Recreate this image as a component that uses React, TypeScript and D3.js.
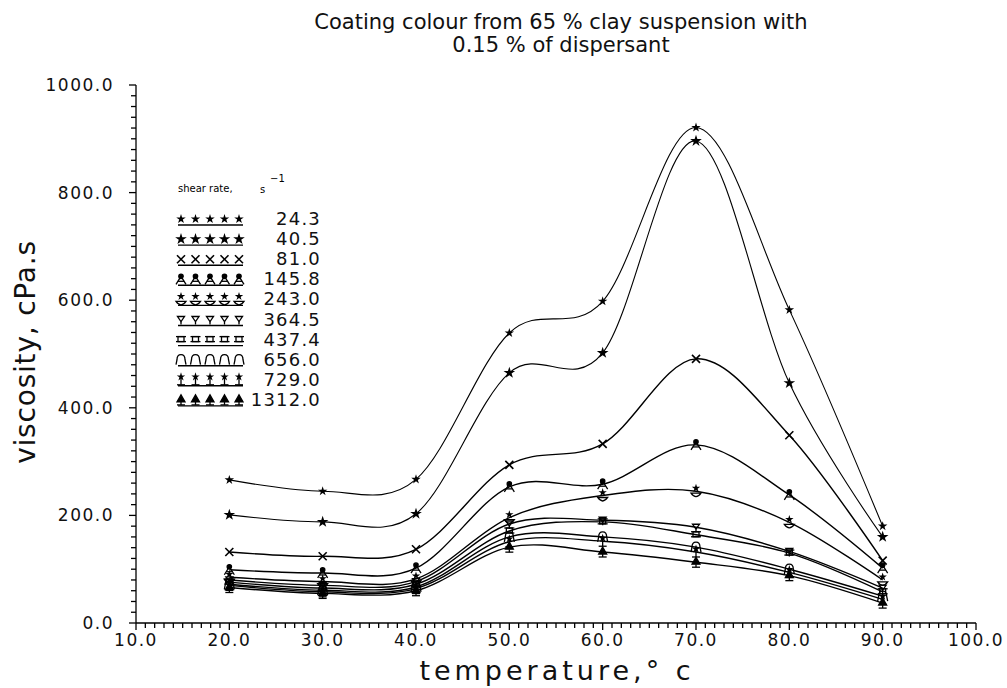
import React from "react";
import * as d3 from "d3";

const temps = [20, 30, 40, 50, 60, 70, 80, 90];
const shearRates = ["24.3", "40.5", "81.0", "145.8", "243.0", "364.5", "437.4", "656.0", "729.0", "1312.0"];
const markerKinds = ["smallStar", "star", "cross", "triA", "starBowl", "pin", "square", "arch", "stemStar", "tree"];

const s24_3 = [266, 245, 267, 539, 598, 921, 582, 180];
const s40_5 = [201, 188, 203, 465, 502, 896, 446, 160];
const s81_0 = [132, 124, 137, 294, 333, 491, 349, 116];
const s145_8 = [99, 93, 102, 253, 258, 331, 238, 102];
const s243_0 = [85, 77, 82, 196, 237, 245, 187, 80];
const s364_5 = [80, 70, 77, 184, 191, 178, 133, 65];
const s437_4 = [76, 65, 72, 171, 188, 164, 130, 58];
const s656_0 = [72, 61, 67, 160, 160, 141, 100, 50];
const s729_0 = [70, 58, 64, 151, 152, 132, 94, 44];
const s1312_0 = [66, 55, 60, 141, 132, 113, 88, 37];

const seriesValues = [s24_3, s40_5, s81_0, s145_8, s243_0, s364_5, s437_4, s656_0, s729_0, s1312_0];

const xTicks = [10, 20, 30, 40, 50, 60, 70, 80, 90, 100];
const yTicks = [0, 200, 400, 600, 800, 1000];

const W = 1007;
const H = 688;
const FONT = "'DejaVu Sans', sans-serif";

const x = d3.scaleLinear().domain([10, 100]).range([136, 976]);
const y = d3.scaleLinear().domain([0, 1000]).range([623, 85]);

const starPath = (r: number) => d3.symbol(d3.symbolStar, r)() as string;

function Marker({ kind, cx, cy }: { kind: string; cx: number; cy: number }) {
  const t = `translate(${cx},${cy})`;
  const sw = 1.3;
  switch (kind) {
    case "smallStar":
      return <path transform={t} d={starPath(28)} fill="#000" />;
    case "star":
      return <path transform={t} d={starPath(42)} fill="#000" />;
    case "cross":
      return (
        <g transform={t} stroke="#000" strokeWidth={1.6}>
          <line x1={-4} y1={-4} x2={4} y2={4} />
          <line x1={-4} y1={4} x2={4} y2={-4} />
        </g>
      );
    case "triA":
      return (
        <g transform={t} stroke="#000" strokeWidth={sw} fill="none">
          <path d="M-5,5 L0,-3 L5,5" />
          <circle cx={0} cy={-3} r={2.2} fill="#000" />
          <line x1={-3} y1={2} x2={3} y2={2} />
        </g>
      );
    case "starBowl":
      return (
        <g transform={t}>
          <path transform="translate(0,-3)" d={starPath(22)} fill="#000" />
          <path d="M-5,2 Q0,9 5,2 Z" fill="none" stroke="#000" strokeWidth={sw} />
        </g>
      );
    case "pin":
      return (
        <g transform={t} stroke="#000" strokeWidth={sw} fill="none">
          <path d="M-3.5,-3 L3.5,-3 L0,2 Z" />
          <line x1={0} y1={2} x2={0} y2={5} />
        </g>
      );
    case "square":
      return (
        <g transform={t} stroke="#000" strokeWidth={sw} fill="none">
          <rect x={-3} y={-3} width={6} height={5} />
          <line x1={-5} y1={-3} x2={5} y2={-3} />
          <line x1={-5} y1={2} x2={5} y2={2} />
        </g>
      );
    case "arch":
      return (
        <g transform={t} stroke="#000" strokeWidth={sw} fill="none">
          <path d="M-5,5 L-4,0 Q-4,-5 0,-5 Q4,-5 4,0 L5,5" />
        </g>
      );
    case "stemStar":
      return (
        <g transform={t} stroke="#000" strokeWidth={sw}>
          <path transform="translate(0,-3)" d={starPath(22)} fill="#000" stroke="none" />
          <line x1={0} y1={-2} x2={0} y2={5} />
          <line x1={-4} y1={5} x2={4} y2={5} />
        </g>
      );
    case "tree":
      return (
        <g transform={t} stroke="#000" strokeWidth={sw}>
          <path d="M0,-5 L4,2 L-4,2 Z" fill="#000" />
          <line x1={0} y1={2} x2={0} y2={5} />
          <line x1={-4} y1={5} x2={4} y2={5} />
        </g>
      );
    default:
      return null;
  }
}

export default function App() {
  const line = d3
    .line<number>()
    .x((_, i) => x(temps[i]))
    .y((d) => y(d))
    .curve(d3.curveCatmullRom.alpha(0));

  const xMinor = d3.range(10, 100.5, 1);
  const yMinor = d3.range(0, 1000.5, 20);

  const legendX0 = 178;
  const legendX1 = 243;
  const legendY0 = 219;
  const legendStep = 20.1;

  return (
    <svg
      width={W}
      height={H}
      style={{ position: "absolute", left: 0, top: 0, background: "#fff" }}
      fontFamily={FONT}
    >
      <rect width={W} height={H} fill="#fff" />

      {/* title */}
      <text x={561} y={29} textAnchor="middle" fontSize={21} fill="#111">
        Coating colour from 65 % clay suspension with
      </text>
      <text x={561} y={52} textAnchor="middle" fontSize={21} fill="#111">
        0.15 % of dispersant
      </text>

      {/* axes */}
      <g stroke="#000" strokeWidth={1.3}>
        <line x1={x(10)} y1={y(0)} x2={x(100)} y2={y(0)} />
        <line x1={x(10)} y1={y(0)} x2={x(10)} y2={y(1000)} />
        {xMinor.map((v) => (
          <line key={"xm" + v} x1={x(v)} x2={x(v)} y1={y(0)} y2={y(0) + (v % 10 === 0 ? 7 : 5)} />
        ))}
        {yMinor.map((v) => (
          <line key={"ym" + v} x1={x(10)} x2={x(10) - (v % 200 === 0 ? 7 : 5)} y1={y(v)} y2={y(v)} />
        ))}
      </g>
      {xTicks.map((v) => (
        <text key={"xt" + v} x={x(v)} y={646} textAnchor="middle" fontSize={17} letterSpacing={1.5} fill="#111">
          {v.toFixed(1)}
        </text>
      ))}
      {yTicks.map((v) => (
        <text key={"yt" + v} x={114} y={y(v) + 6} textAnchor="end" fontSize={17} letterSpacing={1.5} fill="#111">
          {v.toFixed(1)}
        </text>
      ))}

      {/* axis labels */}
      <text x={557} y={680} textAnchor="middle" fontSize={27} letterSpacing={4} fill="#111">
        temperature,° c
      </text>
      <text
        transform={`translate(35,352) rotate(-90)`}
        textAnchor="middle"
        fontSize={28}
        letterSpacing={0.8}
        fill="#111"
      >
        viscosity,  cPa.s
      </text>

      {/* curves */}
      {seriesValues.map((vals, i) => (
        <path key={"l" + i} d={line(vals) as string} fill="none" stroke="#000" strokeWidth={i < 2 ? 1.1 : 1.4} />
      ))}
      {seriesValues.map((vals, i) =>
        vals.map((v, j) => <Marker key={`m${i}-${j}`} kind={markerKinds[i]} cx={x(temps[j])} cy={y(v)} />)
      )}

      {/* legend */}
      <text x={178} y={192} fontSize={10} fill="#000">
        shear rate,
      </text>
      <text x={260} y={193} fontSize={10} fill="#000">
        s
      </text>
      <text x={270} y={182} fontSize={10} fill="#000">
        −1
      </text>
      {shearRates.map((label, i) => {
        const ry = legendY0 + i * legendStep;
        return (
          <g key={"lg" + i}>
            <line x1={legendX0} x2={legendX1} y1={ry + 6} y2={ry + 6} stroke="#000" strokeWidth={1.4} />
            {d3.range(5).map((k) => (
              <Marker key={k} kind={markerKinds[i]} cx={legendX0 + 3 + k * 14.5} cy={ry} />
            ))}
            <text x={321} y={ry + 6} textAnchor="end" fontSize={18} letterSpacing={1.2} fill="#111">
              {label}
            </text>
          </g>
        );
      })}
    </svg>
  );
}
